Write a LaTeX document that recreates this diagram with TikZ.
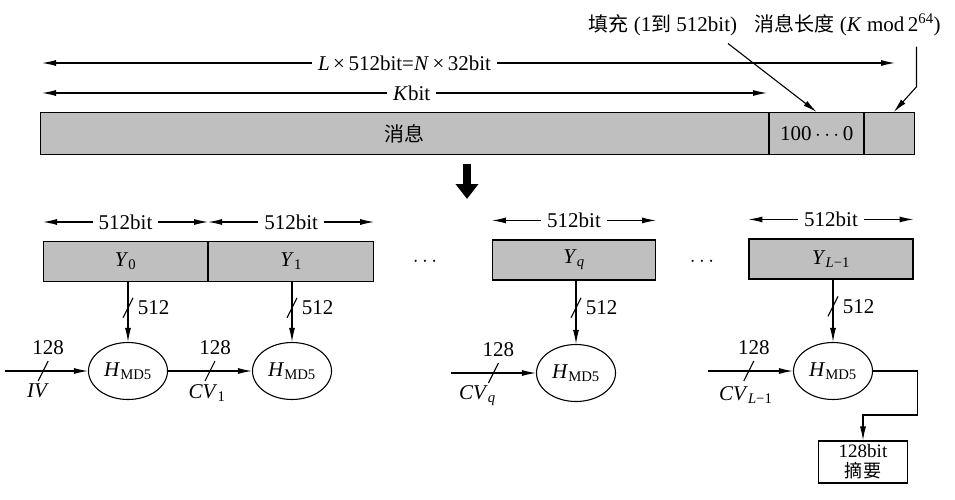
\documentclass[tikz,border=0pt]{standalone}
\usepackage{fontspec}
\setmainfont{Liberation Serif}
\newfontfamily\cjk[Scale=0.95]{Noto Sans CJK SC}
\usetikzlibrary{arrows.meta,positioning,shapes.geometric}

\tikzset{
  >={Latex[length=14pt,width=6pt]},
  blk/.style={draw,fill=gray!50,minimum height=40pt,inner sep=0pt},
  hnode/.style={draw,ellipse,minimum width=79pt,minimum height=57pt,inner sep=0pt},
  dimarrow/.style={<->},
  midlbl/.style={fill=white,inner sep=6pt},
}
\newcommand\cutmark[1]{\draw (#1)+(-5,10)--+(5,-10);}
\newcommand\hmd{\textit{H}\textsubscript{MD5}}

\begin{document}
\begin{tikzpicture}[x=1pt,y=-1pt,font=\fontsize{21}{23}\selectfont]
\tikzstyle{every path}=[line width=1.1pt];
\useasboundingbox (0,0) rectangle (955,500);
% padded message
\node[blk,anchor=north west,minimum width=728pt,minimum height=42pt] (msg) at (40,112) {\cjk 消息};
\node[blk,anchor=north west,minimum width=94pt,minimum height=42pt] (pad) at (msg.north east) {100\,$\cdots$\,0};
\node[blk,anchor=north west,minimum width=50pt,minimum height=42pt] (len) at (pad.north east) {};
\node[anchor=east] (padlbl) at (741,25) {{\cjk 填充} (1{\cjk 到} 512bit)};
\node[anchor=west] (lenlbl) at (751,25) {{\cjk 消息长度} (\textit{K} mod\,2\textsuperscript{64})};
\draw[->] ([shift={(-13,4)}]padlbl.south east) -- (pad.north);
\draw[->] ([shift={(-28,7)}]lenlbl.south east) -- ++(0,40) -- ([xshift=4pt]len.north);
\coordinate (tl) at (42,63);
\coordinate (tr) at (895,63);
\coordinate (kl) at (42,93);
\coordinate (kr) at (767,93);
\draw[dimarrow] (tl) -- node[midlbl,pos=.425] {\textit{L}\,×\,512bit=\textit{N}\,×\,32bit} (tr);
\draw[dimarrow] (kl) -- node[midlbl,pos=.51] {\textit{K}bit} (kr);
\coordinate (dn) at (467,164);
\draw[line width=8pt,-{Triangle[length=15pt,width=22pt]}] (dn) -- ++(0,35);
% blocks
\node[blk,anchor=north west,minimum width=164pt] (y0) at (43,241) {\textit{Y}\textsubscript{0}};
\node[blk,anchor=north west,minimum width=165pt] (y1) at (y0.north east) {\textit{Y}\textsubscript{1}};
\node[blk,minimum width=163pt] (yq) at (574,260) {\textit{Y}\textsubscript{\textit{q}}};
\node[blk,minimum width=164pt] (yl) at (831,259) {\textit{Y}\textsubscript{\textit{L}−1}};
\foreach \b in {y0,y1,yq,yl}
  \draw[dimarrow] ([yshift=19pt]\b.north west) -- node[midlbl]{512bit} ([yshift=19pt]\b.north east);
\node (dots1) at (425,262) {$\cdots$};
\node (dots2) at (702,262) {$\cdots$};
% compression functions
\node[hnode] (h0) at (128,371) {\hmd};
\node[hnode] (h1) at (292,371) {\hmd};
\node[hnode] (hq) at (576,373) {\hmd};
\node[hnode] (hl) at (833,371) {\hmd};
\foreach \b/\h in {y0/h0,y1/h1,yq/hq,yl/hl}{
  \draw[->] (\h |- \b.south) -- coordinate[pos=.43] (s\h) (\h);
  \cutmark{s\h}
  \node[right=6pt of s\h] (n\h) {512};
}
% chaining values
\coordinate (iv) at (5,371);
\coordinate (cq) at (451,373);
\coordinate (cl) at (708,371);
\draw[->] (iv) -- coordinate[pos=.46] (c0) (h0);
\draw[->] (h0) -- coordinate[pos=.5] (c1) (h1);
\draw[->] (cq) -- coordinate[pos=.5] (c2) (hq);
\draw[->] (cl) -- coordinate[pos=.48] (c3) (hl);
\foreach \c in {c0,c1,c2,c3}{
  \cutmark{\c}
  \node (w\c) at ([shift={(5,-23)}]\c) {128};
}
\node (l0) at ([shift={(-5,20)}]c0) {\textit{IV}};
\node (l1) at ([shift={(-3,22)}]c1) {\textit{CV}\textsubscript{1}};
\node (l2) at ([shift={(-16,23)}]c2) {\textit{CV}\textsubscript{\textit{q}}};
\node (l3) at ([shift={(-3,24)}]c3) {\textit{CV}\textsubscript{\textit{L}−1}};
% digest
\node[draw,align=center,inner sep=0pt,minimum width=89pt,minimum height=42pt,
  font=\fontsize{19}{20}\selectfont] (dg) at (863,462) {128bit\\{\cjk 摘要}};
\draw[->] (hl.east) -- ++(44,0) -- ++(0,44) -| (dg.north);
\end{tikzpicture}
\end{document}
